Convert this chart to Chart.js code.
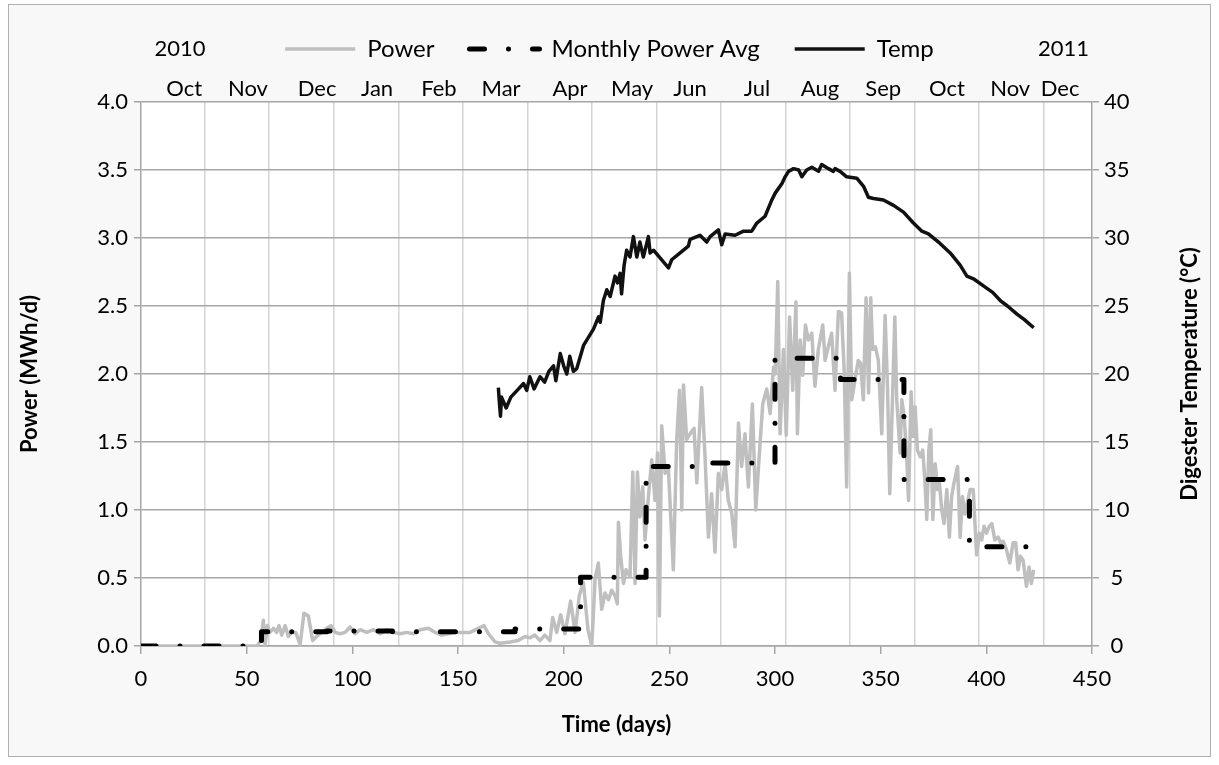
<!DOCTYPE html>
<html><head><meta charset="utf-8">
<script src="https://cdn.jsdelivr.net/npm/chart.js@4.4.0/dist/chart.umd.min.js"></script>
<style>html,body{margin:0;padding:0;background:#fff}#wrap{width:1219px;height:765px}</style>
</head><body><div id="wrap"><canvas id="c" width="1219" height="765"></canvas></div>
<script>
// ---- data ----
const monthLabels = ['Oct','Nov','Dec','Jan','Feb','Mar','Apr','May','Jun','Jul','Aug','Sep','Oct','Nov','Dec'];
const monthLabelDays = [20.4, 50.6, 83.3, 111.7, 141, 170.4, 203, 232.4, 259.8, 291.5, 321.3, 351.2, 381.4, 411.3, 434.9];
const monthGridDays = [30.3, 60.6, 91.3, 122.1, 152.4, 183.2, 213.4, 244.2, 274.5, 305.1, 335.5, 366.2, 396.6, 427.0];
const yearLabels = ['2010', '2011'];
const yearLabelDays = [18.5, 436.5];

const powerDays = [0,10,20,30,40,50,55,56.6,57.9,58.7,59.8,61,62.7,64.2,65.3,66.6,68.2,69.7,71.3,73.2,75.3,77.1,79.2,81.2,83.1,85.5,87.9,89.9,91.9,94.2,96.6,98.9,101.3,103.7,106.8,110,113.1,116.3,119.4,122.6,125.7,128.9,132.1,136,139.2,142.3,145.5,148.6,152.5,155.7,159.6,162.3,164.4,167.5,169.9,174.6,178.5,181.7,184.1,186.4,188.8,191.1,193.5,194.8,196.7,198.6,200.6,203.3,205.4,207.4,209.3,211.5,213.3,214.9,216.4,218,219.6,221.2,222.7,224.3,225.4,225.9,227,228.3,229.5,231.4,232.7,233.8,234.9,236.1,237.4,238.5,240.1,241.7,243.2,244.4,245.3,246.4,248,249.5,251.9,253.5,254.8,255.9,256.7,258.2,259.8,261.7,263,265.3,266.9,268.5,270,271.6,273.2,274.8,276.4,277.9,279.5,281.1,282.7,284.2,285.8,287.4,289.3,290.9,292.2,294.2,296.1,297.7,299.3,300.1,301.3,302.4,304,305.3,306.9,308.4,309.9,310.6,311.9,313.1,314.4,315.8,317.4,318.9,320.5,322.6,323.7,325.2,326.8,328.4,330,331.5,332.8,333.9,335.2,336.3,337.9,339.4,340.5,341.8,343.1,344.3,345.3,346.2,347.5,348.9,350.5,352.1,353.2,354.3,356.7,357.6,359.2,360,361.1,362.3,363.2,364.4,365.5,366.3,367.4,368.7,369.9,371,371.8,372.8,373.7,374.7,375.8,376.9,377.8,378.9,380,381.3,382.5,383.6,384.7,386.4,387.6,388.7,389.9,391,392.3,393.8,395.4,396.7,397.8,398.9,400.1,401.4,402.6,404,405.6,406.7,408,409.5,411.1,412.7,413.9,415,416.1,417.4,419,420.2,421.3,422.4];
const powerValues = [0,0,0,0,0,0,0,0.04,0.19,0.01,0.15,0.10,0.13,0.10,0.15,0.08,0.15,0.07,0.10,0.10,0.01,0.24,0.22,0.04,0.07,0.10,0.13,0.15,0.10,0.09,0.10,0.14,0.09,0.12,0.10,0.12,0.09,0.12,0.10,0.09,0.10,0.09,0.12,0.13,0.10,0.08,0.09,0.10,0.10,0.10,0.13,0.15,0.09,0.03,0.02,0.03,0.04,0.07,0.06,0.08,0.04,0.08,0.04,0.21,0.10,0.23,0.09,0.33,0.10,0.37,0.47,0.12,0.0,0.5,0.61,0.27,0.39,0.34,0.41,0.37,0.31,0.91,0.66,0.46,0.56,0.51,1.28,0.46,1.28,0.95,1.17,0.78,1.10,1.37,1.07,1.42,0.22,1.62,1.27,1.32,0.56,1.52,1.88,1.0,1.92,1.52,1.56,1.6,1.2,1.9,1.39,0.80,1.12,0.69,1.27,1.15,1.34,1.07,0.98,0.73,1.64,1.32,1.56,1.17,1.78,1.0,1.32,1.78,1.89,1.71,2.05,2.0,2.68,1.56,2.18,1.55,2.42,1.88,2.53,1.56,2.25,1.99,2.36,2.25,2.30,1.91,2.18,2.36,2.10,2.20,2.30,1.88,2.46,2.45,2.0,1.17,2.74,1.81,1.96,2.10,2.08,1.81,2.56,1.86,2.56,2.18,2.20,2.10,1.56,2.43,1.93,1.12,2.42,1.81,1.42,1.81,1.69,1.39,1.07,1.87,1.54,1.76,1.44,1.39,1.44,1.2,0.93,1.44,1.59,0.93,1.34,1.15,1.2,1.0,0.9,1.15,0.8,1.1,1.2,1.32,0.8,1.1,0.97,1.05,1.15,1.15,0.67,0.83,0.78,0.88,0.83,0.88,0.9,0.78,0.8,0.76,0.77,0.71,0.61,0.76,0.76,0.56,0.66,0.63,0.44,0.58,0.46,0.56];

const avgDays = [0, 57, 88, 119, 147, 177, 208, 239, 269, 300, 331, 361, 392, 423];
const avgValues = [0, 0.105, 0.11, 0.105, 0.105, 0.125, 0.505, 1.32, 1.345, 2.115, 1.96, 1.225, 0.73, 0.73];

const tempDays = [169.1,169.6,170.1,170.6,172.8,175,178,181,182.5,184,186,188.8,191,193,195.2,196.3,198.4,200,201.5,202.9,204.6,206.2,209.4,214.1,216.5,217.3,218.8,220.4,222,224.3,225.5,226.7,227.4,228.6,229.8,231.4,233,234.6,236.1,237.7,240.1,240.9,242.5,249.6,251.1,255.1,259,259.8,264.5,267.7,269.3,273.2,274.8,276.4,281.1,285.1,289,291.4,295.3,298.5,300.1,303.3,304.8,306.4,308.8,311.2,312.7,315,317.4,320.6,322.1,325.3,327.6,328.4,330.8,333.9,338.7,341.9,344.2,346.6,351.3,356.1,360.8,365.5,369.5,372.6,378.1,382.9,387.6,390.8,393.9,400.3,403,406.6,410,414.5,418,422.4];
const tempValues = [19.0,17.9,16.9,18.3,17.5,18.3,18.8,19.3,18.8,19.8,18.9,19.8,19.4,20.2,20.6,19.5,21.5,20.6,20.0,21.3,20.2,20.4,22.1,23.3,24.2,23.8,25.4,26.2,25.7,27.2,26.7,27.4,25.9,28.0,29.1,28.6,30.1,28.6,29.7,28.6,30.1,28.9,29.1,27.8,28.4,28.9,29.4,29.9,30.2,29.7,30.1,30.6,29.5,30.3,30.2,30.5,30.5,31.1,31.6,32.8,33.3,34.0,34.5,34.9,35.1,35.0,34.5,35.0,35.2,34.9,35.4,35.1,34.9,35.1,34.9,34.5,34.4,33.8,33.0,32.9,32.8,32.4,31.9,31.1,30.5,30.3,29.6,28.9,28.0,27.2,27.0,26.3,26.0,25.4,25.0,24.4,24.0,23.4];

// ---- styling ----
const FONT = 'Lato';
const tickFont = {family: FONT, size: 22};
const legendFont = {family: FONT, size: 24};
const titleFont = {family: FONT, size: 22, weight: 'bold'};
const axisGray = '#a6a6a6';

const bgPlugin = {
  id: 'bg',
  beforeDraw(chart) {
    const {ctx, chartArea: a} = chart;
    ctx.save();
    ctx.fillStyle = '#ffffff';
    ctx.fillRect(0, 0, chart.width, chart.height);
    ctx.fillStyle = '#f8f8f8';
    ctx.fillRect(8, 4, chart.width - 16, chart.height - 12);
    ctx.strokeStyle = '#b0b0b0';
    ctx.lineWidth = 1;
    ctx.strokeRect(8.5, 4.5, chart.width - 17, chart.height - 13);
    ctx.fillStyle = '#ffffff';
    ctx.fillRect(a.left, a.top, a.right - a.left, a.bottom - a.top);
    ctx.restore();
  }
};
const textPlugin = {
  id: 'extraText',
  afterDraw(chart) {
    const {ctx, chartArea: a} = chart;
    const xs = chart.scales.x;
    const hb = chart.legend.legendHitBoxes[0];
    const cy = hb.top + hb.height / 2;
    ctx.save();
    ctx.font = '22px ' + FONT;
    ctx.fillStyle = '#000';
    ctx.textAlign = 'center';
    ctx.textBaseline = 'middle';
    yearLabels.forEach((t, i) => ctx.fillText(t, xs.getPixelForValue(yearLabelDays[i]), cy));
    // right axis title, rotated like the left one
    const y1 = chart.scales.y1;
    ctx.font = 'bold 22px ' + FONT;
    ctx.translate(y1.right - 21, (a.top + a.bottom) / 2);
    ctx.rotate(-Math.PI / 2);
    ctx.fillText(y1.options.title.text, 0, 0);
    ctx.restore();
  }
};

const toXY = (xs, ys) => xs.map((d, i) => ({x: d, y: ys[i]}));

new Chart(document.getElementById('c'), {
  type: 'line',
  data: {
    datasets: [
      {label: 'Power', data: toXY(powerDays, powerValues), borderColor: '#bfbfbf', backgroundColor: '#bfbfbf',
       borderWidth: 3.5, pointRadius: 0, tension: 0, yAxisID: 'y', xAxisID: 'x', order: 2, borderJoinStyle: 'round'},
      {label: 'Monthly Power Avg', data: toXY(avgDays, avgValues), stepped: 'before', borderColor: '#000', backgroundColor: '#000',
       borderWidth: 5, borderDash: [15, 24, 0.01, 24], borderCapStyle: 'round', borderJoinStyle: 'round',
       pointRadius: 0, yAxisID: 'y', xAxisID: 'x', order: 1},
      {label: 'Temp', data: toXY(tempDays, tempValues), borderColor: '#111', backgroundColor: '#111',
       borderWidth: 3.5, pointRadius: 0, tension: 0, yAxisID: 'y1', xAxisID: 'x', order: 0, borderJoinStyle: 'round'}
    ]
  },
  options: {
    responsive: false,
    animation: false,
    layout: {padding: {left: 8, right: 8, top: 2, bottom: 8}},
    plugins: {
      legend: {
        position: 'top',
        labels: {
          usePointStyle: true, pointStyle: 'line', pointStyleWidth: 70,
          font: legendFont, color: '#000', padding: 35,
          sort: (a, b) => a.datasetIndex - b.datasetIndex,
          generateLabels: chart => {
            const items = Chart.defaults.plugins.legend.labels.generateLabels(chart);
            items.forEach(it => {
              const ds = chart.data.datasets[it.datasetIndex];
              it.lineDash = ds.borderDash || [];
              it.lineCap = ds.borderCapStyle || 'butt';
              it.lineWidth = ds.borderWidth;
              it.strokeStyle = ds.borderColor;
              it.fillStyle = ds.borderColor;
              it.pointStyle = 'line';
            });
            return items;
          }
        }
      },
      tooltip: {enabled: false}
    },
    scales: {
      x: {
        type: 'linear', position: 'bottom', min: 0, max: 450,
        ticks: {stepSize: 50, font: tickFont, color: '#000', padding: 12, maxRotation: 0},
        grid: {drawOnChartArea: false, color: axisGray, lineWidth: 1.5, tickLength: 8},
        border: {color: axisGray, width: 1.5},
        title: {display: true, text: 'Time (days)', font: titleFont, color: '#000', padding: {top: 0, bottom: 19}},
        afterFit: s => { s.height = 111; }
      },
      xGrid: {
        type: 'linear', position: 'top', min: 0, max: 450, weight: 0,
        afterBuildTicks: s => { s.ticks = monthGridDays.map(v => ({value: v})); },
        ticks: {display: false},
        grid: {color: '#d4d4d4', lineWidth: 1.5, drawTicks: false},
        border: {display: false},
        afterFit: s => { s.height = 0; }
      },
      xMonths: {
        type: 'linear', position: 'top', min: 0, max: 450, weight: 1,
        afterBuildTicks: s => { s.ticks = monthLabelDays.map(v => ({value: v})); },
        ticks: {callback: (v, i) => monthLabels[i], autoSkip: false, maxRotation: 0, font: tickFont, color: '#000', padding: 0},
        grid: {display: false, drawTicks: false},
        border: {display: false},
        afterFit: s => { s.height = 31; }
      },
      y: {
        position: 'left', min: 0, max: 4,
        ticks: {stepSize: 0.5, callback: v => v.toFixed(1), font: tickFont, color: '#000', padding: 6},
        grid: {color: axisGray, lineWidth: 1.5, tickLength: 7},
        border: {color: axisGray, width: 1.5},
        title: {display: true, text: 'Power (MWh/d)', font: titleFont, color: '#000', padding: {top: 9, bottom: 0}},
        afterFit: s => { s.width = 133; }
      },
      y1: {
        position: 'right', min: 0, max: 40,
        ticks: {stepSize: 5, font: tickFont, color: '#000', padding: 5, crossAlign: 'center'},
        grid: {drawOnChartArea: false, color: axisGray, lineWidth: 1.5, tickLength: 7},
        border: {color: axisGray, width: 1.5},
        title: {display: false, text: 'Digester Temperature (°C)', font: titleFont, color: '#000'},
        afterFit: s => { s.width = 119; }
      }
    }
  },
  plugins: [bgPlugin, textPlugin]
});
</script></body></html>
